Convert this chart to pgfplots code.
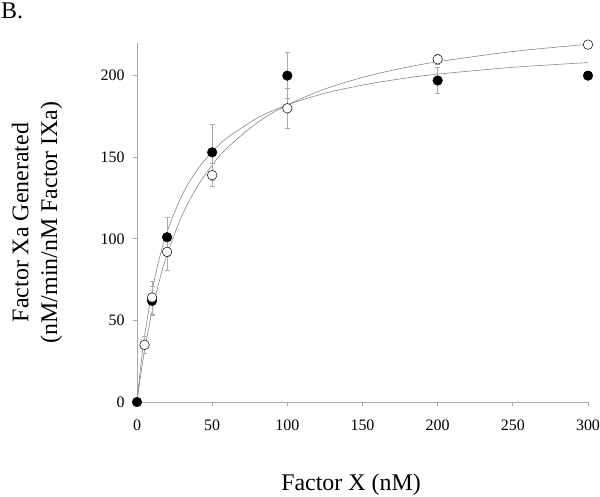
\documentclass[border=0pt]{standalone}
\usepackage{pgfplots}
\pgfplotsset{compat=1.18}
\usepackage{fontspec}
\setmainfont{Liberation Serif}
\definecolor{axgray}{RGB}{170,170,170}
\definecolor{curvegray}{RGB}{135,135,135}
\begin{document}
\begin{tikzpicture}
\begin{axis}[name=ax, width=451bp, height=359bp, scale only axis,
 xmin=0,xmax=300,ymin=0,ymax=220,
 axis lines=left,
 color=axgray,
 axis line style={-, draw=axgray, line width=0.8bp},
 xtick={0,50,...,300}, ytick={0,50,...,200},
 tick align=outside, major tick length=4bp,
 tick style={draw=axgray, line width=0.8bp},
 /pgf/number format/assume math mode=true,
 ticklabel style={text=black, font=\fontsize{16}{19}\selectfont},
 xticklabel style={yshift=-10bp},
 yticklabel style={xshift=-5bp},
 xlabel={Factor X (nM)},
 ylabel={Factor Xa Generated\\(nM/min/nM Factor IXa)},
 label style={text=black, font=\fontsize{24}{29}\selectfont},
 xlabel style={at={(axis description cs:0.4745,0)}, anchor=base, yshift=-88bp},
 ylabel style={at={(axis description cs:-0.2217,0.5)}, anchor=center, align=center},
 clip=false]
% fitted curve, filled series
\addplot[curvegray, line width=0.6bp, smooth] coordinates {
(0,0) (2,17.9) (5,40) (10,67.9) (15,88.4) (20,104.2) (30,126.8) (40,142.2)
(50,153.4) (60,161.9) (80,174.0) (100,182.1) (125,189.2) (150,194.2)
(175,198.0) (200,200.9) (250,205.1) (300,208.0)};
% fitted curve, open series
\addplot[curvegray, line width=0.6bp, smooth] coordinates {
(0,0) (2,13.6) (5,31.3) (10,55.5) (15,74.7) (20,90.4) (30,114.4) (40,131.9)
(50,145.2) (60,155.7) (80,171.2) (100,182.1) (125,191.8) (150,198.9)
(175,204.3) (200,208.5) (250,214.8) (300,219.2)};
% filled circles
\addplot[only marks, mark=*, mark size=4.8bp, mark options={fill=black, draw=black, line width=0.5bp},
 error bars/.cd, y dir=both, y explicit,
 error bar style={axgray, line width=0.6bp},
 error mark options={rotate=90, mark size=2.5bp, axgray, line width=0.6bp}]
 coordinates {(0,0) +- (0,0) (10,62) +- (0,9) (20,101) +- (0,12) (50,153) +- (0,17)
 (100,200) +- (0,14) (200,197) +- (0,8) (300,200) +- (0,0)};
% open circles
\addplot[only marks, mark=*, mark size=4.8bp, mark options={fill=white, draw=black, line width=0.5bp},
 error bars/.cd, y dir=both, y explicit,
 error bar style={axgray, line width=0.6bp},
 error mark options={rotate=90, mark size=2.5bp, axgray, line width=0.6bp}]
 coordinates {(5,35) +- (0,5) (10,64) +- (0,10) (20,92) +- (0,11) (50,139) +- (0,7)
 (100,180) +- (0,12) (200,210) +- (0,3) (300,219) +- (0,0)};
\end{axis}
\pgfresetboundingbox
\path[use as bounding box] ([shift={(-137bp,-95bp)}]ax.south west) rectangle ([shift={(12bp,43bp)}]ax.north east);
\node[anchor=north west, inner sep=0pt, font=\fontsize{24}{29}\selectfont] at ([shift={(-136bp,40bp)}]ax.north west) {B.};
\end{tikzpicture}
\end{document}
